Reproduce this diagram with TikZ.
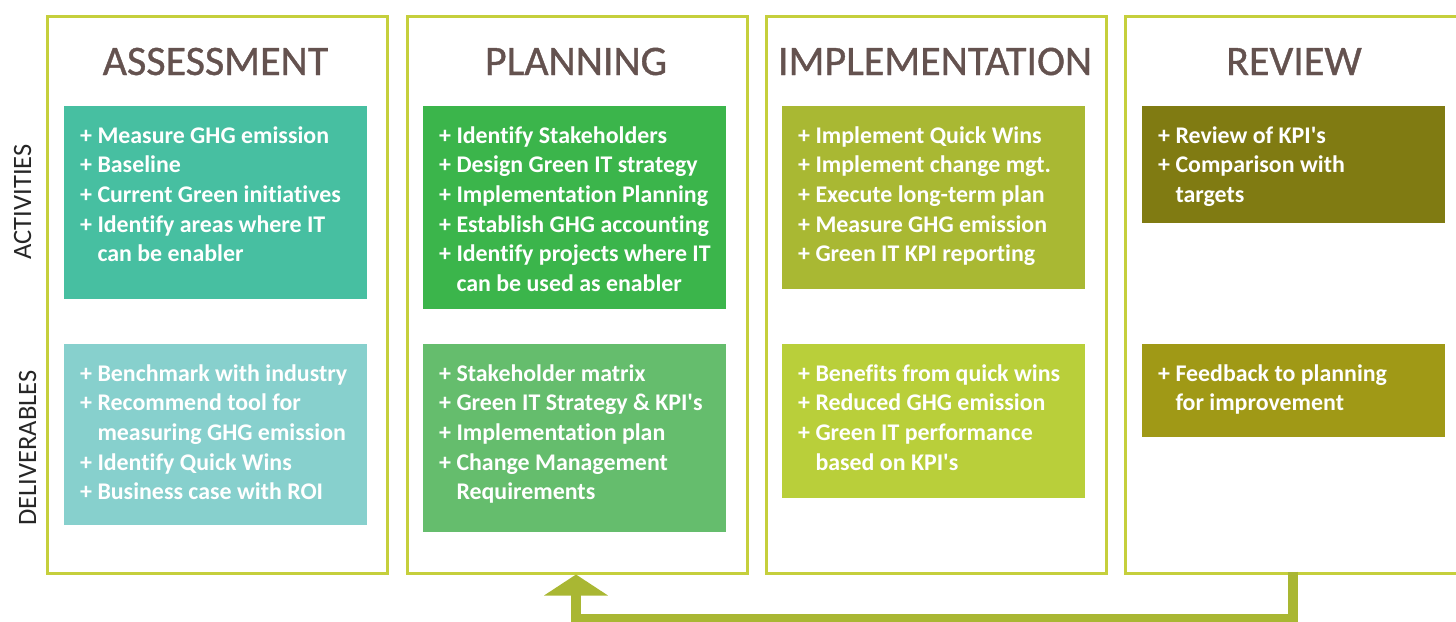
\documentclass[tikz,border=0pt]{standalone}
\usepackage{fontspec}
\setmainfont{Carlito}[Ligatures=NoCommon]
\newfontfamily\headfont{Carlito}[FakeBold=0.9]
\usetikzlibrary{arrows.meta}
\definecolor{frameC}{HTML}{C5CF3C}
\definecolor{arrowC}{HTML}{A9B733}
\definecolor{headC}{HTML}{64524F}
\definecolor{sideC}{HTML}{262626}
\definecolor{tealA}{HTML}{47BFA1}
\definecolor{tealD}{HTML}{87D0CD}
\definecolor{greenA}{HTML}{3BB54B}
\definecolor{greenD}{HTML}{65BD6D}
\definecolor{limeA}{HTML}{A9B833}
\definecolor{limeD}{HTML}{B9CF3A}
\definecolor{oliveA}{HTML}{807B12}
\definecolor{oliveD}{HTML}{A09916}
\tikzset{
  panel/.style={draw=frameC, line width=3pt, rectangle, inner sep=0pt, anchor=north west, minimum height=557pt},
  heading/.style={anchor=base, text=headC, inner sep=0pt, font=\headfont\fontsize{42}{48}\selectfont},
  side/.style={rotate=90, anchor=center, text=sideC, inner sep=0pt, font=\fontsize{26.5}{30}\selectfont},
  box/.style={rectangle, inner sep=0pt, anchor=north west, minimum width=303pt},
  txt/.style={anchor=north west, inner sep=0pt, align=left, text=white, font=\bfseries\fontsize{23.9}{29.6}\selectfont},
  fb/.style={draw=arrowC, line width=10pt, line join=miter, -{Triangle[width=63pt,length=21pt]}}
}
\newcommand{\fl}{\rule{0pt}{20pt}}
\newcommand{\ind}{\phantom{+ }}
\newcommand{\ap}{\textquotesingle}
\begin{document}
\begin{tikzpicture}[x=1pt,y=-1pt]
\useasboundingbox (0,0) rectangle (1456,621);
\clip (0,0) rectangle (1456,621);
% panels
\node[panel, minimum width=340pt] (p1) at (45.5,14.5) {};
\node[panel, minimum width=340pt] (p2) at (405.5,14.5) {};
\node[panel, minimum width=340pt] (p3) at (764.5,14.5) {};
\node[panel, minimum width=345pt] (p4) at (1123.5,14.5) {};
% headings
\node[heading] (h1) at (215.5,75) {ASSESSMENT};
\node[heading] (h2) at (576,75) {PLANNING};
\node[heading] (h3) at (935,75) {IMPLEMENTATION};
\node[heading] (h4) at (1294,75) {REVIEW};
% side labels
\node[side] (sa) at (22.5,202) {ACTIVITIES};
\node[side] (sd) at (27.5,448) {DELIVERABLES};
% assessment
\node[box, fill=tealA, minimum height=193pt] (a1) at (64,106) {};
\node[txt] (a1t) at ([shift={(16,17)}]a1.north west) {\fl+ Measure GHG emission\\+ Baseline\\+ Current Green initiatives\\+ Identify areas where IT\\\ind can be enabler};
\node[box, fill=tealD, minimum height=181pt] (a2) at (64,344) {};
\node[txt] (a2t) at ([shift={(16,17)}]a2.north west) {\fl+ Benchmark with industry\\+ Recommend tool for\\\ind measuring GHG emission\\+ Identify Quick Wins\\+ Business case with ROI};
% planning
\node[box, fill=greenA, minimum height=203pt] (b1) at (423,106) {};
\node[txt] (b1t) at ([shift={(16,17)}]b1.north west) {\fl+ Identify Stakeholders\\+ Design Green IT strategy\\+ Implementation Planning\\+ Establish GHG accounting\\+ Identify projects where IT\\\ind can be used as enabler};
\node[box, fill=greenD, minimum height=188pt] (b2) at (423,344) {};
\node[txt] (b2t) at ([shift={(16,17)}]b2.north west) {\fl+ Stakeholder matrix\\+ Green IT Strategy \& KPI\ap s\\+ Implementation plan\\+ Change Management\\\ind Requirements};
% implementation
\node[box, fill=limeA, minimum height=183pt] (c1) at (782,106) {};
\node[txt] (c1t) at ([shift={(16,17)}]c1.north west) {\fl+ Implement Quick Wins\\+ Implement change mgt.\\+ Execute long-term plan\\+ Measure GHG emission\\+ Green IT KPI reporting};
\node[box, fill=limeD, minimum height=154pt] (c2) at (782,344) {};
\node[txt] (c2t) at ([shift={(16,17)}]c2.north west) {\fl+ Benefits from quick wins\\+ Reduced GHG emission\\+ Green IT performance\\\ind based on KPI\ap s};
% review
\node[box, fill=oliveA, minimum height=117pt] (d1) at (1142,106) {};
\node[txt] (d1t) at ([shift={(16,17)}]d1.north west) {\fl+ Review of KPI\ap s\\+ Comparison with\\\ind targets};
\node[box, fill=oliveD, minimum height=93pt] (d2) at (1142,344) {};
\node[txt] (d2t) at ([shift={(16,17)}]d2.north west) {\fl+ Feedback to planning\\\ind for improvement};
% feedback arrow
\coordinate (fbStart) at (1293,571.5);
\draw[fb] (fbStart) -- ++(0,47.5) -| ([xshift=-1pt]p2.south);
\end{tikzpicture}
\end{document}
